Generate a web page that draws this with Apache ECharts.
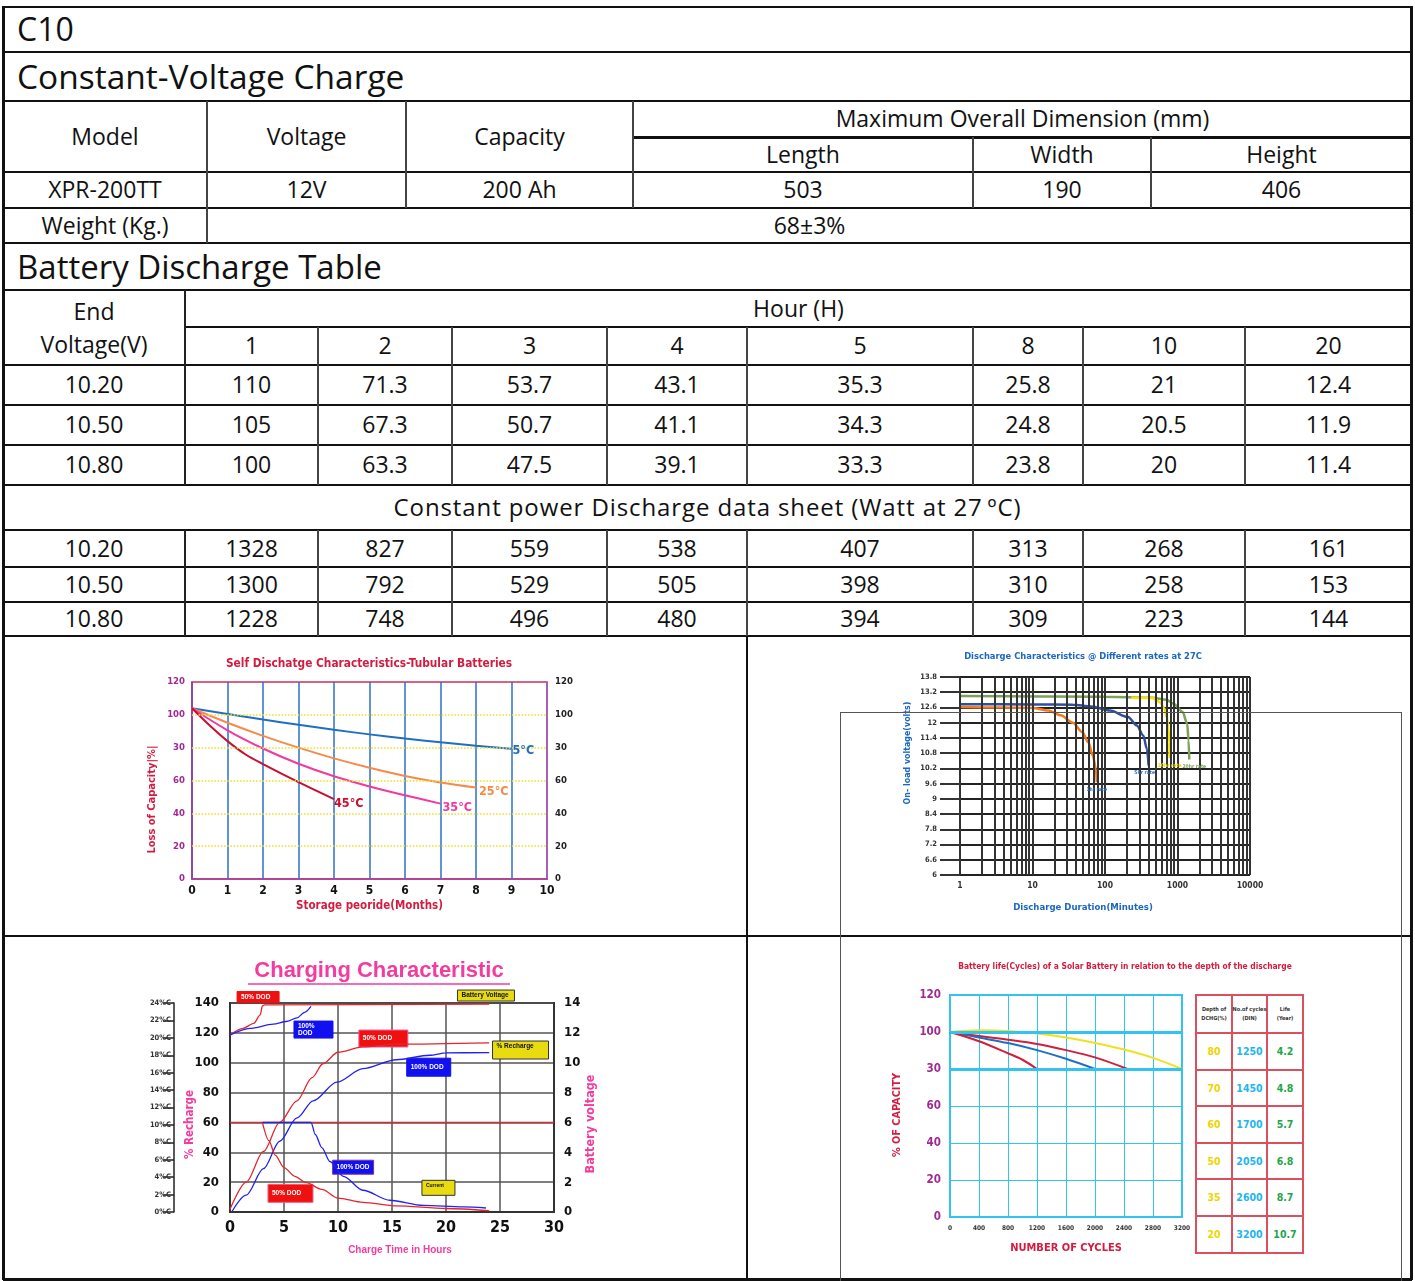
<!DOCTYPE html>
<html><head><meta charset="utf-8">
<script src="https://cdn.jsdelivr.net/npm/echarts@6/dist/echarts.min.js"></script>
<style>
body{margin:0;background:#fff;}
#sheet{position:relative;width:1415px;height:1281px;overflow:hidden;font-family:'Open Sans',sans-serif;color:#111;}
#chart{position:absolute;left:0;top:0;width:1415px;height:1281px;z-index:1;}
</style></head><body>
<div id="sheet"><div id="chart"></div></div>
<script>
// ================= DATA =================
const sheetTitle = 'C10';
const chargeTitle = 'Constant-Voltage Charge';
const specHeaders = ['Model', 'Voltage', 'Capacity'];
const dimHeader = 'Maximum Overall Dimension (mm)';
const dimHeaders = ['Length', 'Width', 'Height'];
const specValues = ['XPR-200TT', '12V', '200 Ah', '503', '190', '406'];
const weightLabel = 'Weight (Kg.)';
const weightValue = '68±3%';
const dischargeTitle = 'Battery Discharge Table';
const endVoltageHeader = 'End\nVoltage(V)';
const hourHeader = 'Hour (H)';
const hourLabels = ['1', '2', '3', '4', '5', '8', '10', '20'];
const endVoltages = ['10.20', '10.50', '10.80'];
const currentRows = [
  ['110', '71.3', '53.7', '43.1', '35.3', '25.8', '21', '12.4'],
  ['105', '67.3', '50.7', '41.1', '34.3', '24.8', '20.5', '11.9'],
  ['100', '63.3', '47.5', '39.1', '33.3', '23.8', '20', '11.4']
];
const powerHeader = 'Constant power Discharge data sheet (Watt at 27\u2009ºC)';
const powerRows = [
  ['1328', '827', '559', '538', '407', '313', '268', '161'],
  ['1300', '792', '529', '505', '398', '310', '258', '153'],
  ['1228', '748', '496', '480', '394', '309', '223', '144']
];

// Chart 1: self discharge (months, capacity units)
const selfTickLabels = ['0', '20', '40', '60', '30', '100', '120'];
const sd5C  = [[0,104],[1,100.5],[2,97.1],[3,93.9],[4,90.9],[5,88.1],[6,85.6],[7,83.3],[8,81.2],[9,79.4]];
const sd25C = [[0,104],[1,95.2],[2,87.2],[3,80],[4,73.5],[5,67.8],[6,62.8],[7,58.8],[8,55.7]];
const sd35C = [[0,104],[1,90.6],[2,79.5],[3,70.2],[4,62.6],[5,56.4],[6,51],[7,45.9]];
const sd45C = [[0,104],[0.5,93.5],[1,84],[1.5,76],[2,70],[3,59],[4,48.7]];
const sdNames = ['5°C', '25°C', '35°C', '45°C'];

// Chart 2: discharge at different rates (minutes, volts)
const logTickLabels = ['1', '10', '100', '1000', '10000'];
const voltTickLabels = ['6','6.6','7.2','7.8','8.4','9','9.6','10.2','10.8','11.4','12','12.6','13.2','13.8'];
const rate1h  = [[1,12.62],[3.7,12.6],[10,12.58],[16.6,12.48],[24.5,12.29],[36,12.0],[48.5,11.63],[59,11.23],[68,10.7],[75,10.18],[77,9.66]];
const rate5h  = [[1,12.73],[10,12.72],[36,12.71],[65,12.64],[117,12.48],[208,12.22],[275,11.89],[337,11.5],[378,10.97],[400,10.31]];
const rate20y = [[229,12.98],[450,12.97],[572,12.81],[660,12.55],[714,12.22],[750,11.76],[770,11.23],[778,10.6]];
const rate20g = [[1,13.05],[100,13.02],[450,12.98],[700,12.9],[883,12.75],[1178,12.42],[1361,11.96],[1420,11.3],[1455,10.55]];
const rateNames = ['1hr rate', '5hr rate', '20hr rate', '20hr rate'];

// Chart 3: charging characteristic (hours)
const currentTickLabels = ['0%C','2%C','4%C','6%C','8%C','10%C','12%C','14%C','16%C','18%C','20%C','22%C','24%C'];
const volt50 = [[0,11.85],[1.2,12.3],[2.2,12.64],[2.8,13.2],[3.0,13.8],[3.2,13.88],[24,13.92]];          // V
const volt100 = [[0,11.85],[1.85,12.3],[4,12.58],[5.2,12.76],[6.2,13.0],[6.9,13.37],[7.5,13.77]];      // V
const recharge50 = [[0,1.8],[1.5,20],[3.1,40.6],[4.6,60],[6.2,74.5],[7.6,90],[8.6,99.3],[10,107],[12.3,110.6],[15.4,112.4],[24,113.3]]; // %
const recharge100 = [[0.2,0.5],[1.5,11.3],[3.1,29],[4.6,47.4],[6.2,63],[7.7,74.5],[9.9,87],[12.3,96],[15.4,102],[18.5,105],[20,106.6],[24,106.8]]; // %
const currentFlat = [[0,10.3],[30,10.3]];  // %C
const current50 = [[3,10.3],[3.6,8.2],[4.2,6.5],[5,5.1],[6,4.1],[7,3.4],[8.5,2.6],[10,1.6],[12.3,1.1],[15.4,0.7],[20,0.4],[24,0.15]];
const current100 = [[3,10.3],[7.5,10.3],[7.9,8.9],[8.5,7.4],[9.25,5.8],[10.5,4.1],[12.3,2.5],[14.8,1.35],[17.9,0.77],[21.6,0.58],[23.7,0.46]];
const chargeBoxTexts = ['50% DOD','Battery Voltage','100%\nDOD','50% DOD','% Recharge','100% DOD','100% DOD','Current','50% DOD'];
const chargeBoxAnchors = [[2.6,144],[23.7,145],[7.73,122.2],[14.2,116.2],[26.9,108.5],[18.4,97],[11.4,30],[19.3,16.2],[5.6,12.5]];

// Chart 4: cycle life
const capTickLabels = ['0', '20', '40', '60', '30', '100', '120'];
const cyclesRedShort = [[0,100],[400,95],[800,88.5],[1000,85],[1200,80]];
const cyclesBlue = [[0,100],[400,97],[800,94],[1200,90.2],[1600,85.5],[2000,80]];
const cyclesRedLong = [[0,100],[400,97.8],[800,95.8],[1200,93.5],[1600,90.2],[2000,86.3],[2450,80]];
const cyclesYellow = [[0,100],[400,101],[800,100.6],[1200,99.2],[1600,97],[2000,94],[2400,90.5],[2800,86],[3200,80]];
const dodHeaders = ['Depth of\nDCHG(%)', 'No.of cycles\n(DIN)', 'Life\n(Year)'];
const dodDepth = ['80', '70', '60', '50', '35', '20'];
const dodCycles = ['1250', '1450', '1700', '2050', '2600', '3200'];
const dodLife = ['4.2', '4.8', '5.7', '6.8', '8.7', '10.7'];

// ================= HTML TABLES =================
const sheet = document.getElementById('sheet');
function box(x, y, w, h, css) {
  const d = document.createElement('div');
  d.style.cssText = 'position:absolute;left:' + x + 'px;top:' + y + 'px;width:' + w + 'px;height:' + h + 'px;' + (css || '');
  sheet.appendChild(d); return d;
}
function H(y, x1, x2, t, c) { t = t || 2.5; box(x1, y - t / 2, x2 - x1, t, 'background:' + (c || '#111')); }
function V(x, y1, y2, t, c) { t = t || 1.3; box(x - t / 2, y1, t, y2 - y1, 'background:' + (c || '#444')); }
function T(text, x1, y1, x2, y2, o) {
  o = o || {};
  const d = box(x1, y1, x2 - x1, y2 - y1,
    'display:flex;align-items:center;justify-content:' + (o.align || 'center') + ';font-size:' + (o.size || 23) +
    'px;line-height:' + (o.lh || 1.2) + ';white-space:pre;text-align:center;color:' + (o.color || '#111') + ';' + (o.css || ''));
  d.textContent = text; return d;
}
[7, 52, 101, 172, 208, 243, 290, 365, 405, 445, 485, 530, 567, 602, 636, 936].forEach(y => H(y, 3, 1412));
H(137.5, 633, 1412); H(327, 185, 1412); H(1279, 3, 1412, 3);
V(3.5, 6, 1280, 2.5, '#111'); V(1411.5, 6, 1280, 3, '#111');
V(207, 101, 243); V(406, 101, 208); V(633, 101, 208); V(973, 137, 208); V(1151, 137, 208);
const dCols = [3, 185, 318, 452, 607, 747, 973, 1083, 1245, 1412];
V(185, 290, 485, 1.6, '#222'); V(185, 530, 636, 1.6, '#222');
dCols.slice(2, 9).forEach(x => { V(x, 327, 485); V(x, 530, 636); });
V(747, 636, 1279, 2.5, '#111');

T(sheetTitle, 17, 7, 600, 52, { align: 'flex-start', size: 32 });
T(chargeTitle, 17, 52, 800, 101, { align: 'flex-start', size: 33.5 });
const tCols = [3, 207, 406, 633, 973, 1151, 1412];
specHeaders.forEach((s, i) => T(s, tCols[i], 101, tCols[i + 1], 172));
T(dimHeader, 633, 101, 1412, 137);
dimHeaders.forEach((s, i) => T(s, tCols[i + 3], 137, tCols[i + 4], 172));
specValues.forEach((s, i) => T(s, tCols[i], 172, tCols[i + 1], 208));
T(weightLabel, 3, 208, 207, 243);
T(weightValue, 207, 208, 1412, 243);
T(dischargeTitle, 17, 243, 800, 290, { align: 'flex-start', size: 33 });
T(endVoltageHeader, 3, 290, 185, 365, { lh: 1.4 });
T(hourHeader, 185, 290, 1412, 327);
hourLabels.forEach((s, i) => T(s, dCols[i + 1], 327, dCols[i + 2], 365));
const cRows = [365, 405, 445, 485];
currentRows.forEach((row, r) => {
  T(endVoltages[r], 3, cRows[r], 185, cRows[r + 1]);
  row.forEach((s, i) => T(s, dCols[i + 1], cRows[r], dCols[i + 2], cRows[r + 1]));
});
T(powerHeader, 3, 485, 1412, 530, { size: 24, css: 'letter-spacing:0.9px;' });
const pRows = [530, 567, 602, 636];
powerRows.forEach((row, r) => {
  T(endVoltages[r], 3, pRows[r], 185, pRows[r + 1]);
  row.forEach((s, i) => T(s, dCols[i + 1], pRows[r], dCols[i + 2], pRows[r + 1]));
});

const CF = "'DejaVu Sans Condensed','DejaVu Sans',sans-serif";
const AF = "'Liberation Sans',Arial,sans-serif";
const dodX = [1196, 1232, 1267, 1303];
const dodY = [995, 1033, 1070, 1106, 1143, 1179, 1216, 1253];
dodY.forEach(y => H(y, 1195, 1304, 1.6, '#d9505e'));
dodX.forEach(x => V(x, 994, 1254, 1.6, '#d9505e'));
dodHeaders.forEach((s, i) => T(s, dodX[i], dodY[0], dodX[i + 1], dodY[1], { size: 5.5, lh: 1.7, css: 'font-family:' + CF + ';font-weight:bold;color:#333;' }));
const dodColors = ['#f0d400', '#22b5f0', '#1fa54a'];
[dodDepth, dodCycles, dodLife].forEach((col, c) => col.forEach((s, r) =>
  T(s, dodX[c], dodY[r + 1], dodX[c + 1], dodY[r + 2], { size: 10.5, color: dodColors[c], css: 'font-family:' + CF + ';font-weight:bold;' })));

box(840, 712, 562, 570, 'border:1.3px solid #555;border-bottom:none;box-sizing:border-box;z-index:2;pointer-events:none;');

// ================= ECHARTS =================
const crimson = '#d31c3f';
const purple = '#a02a92';
const pink = '#f23c9e';
const chart = echarts.init(document.getElementById('chart'), null, { renderer: 'canvas' });

const logGridValues = [];
[1, 10, 100, 1000].forEach(d => { for (let k = 1; k <= 9; k++) logGridValues.push(k * d); });
logGridValues.push(10000);

function ln(data, x, y, color, width, extra) {
  return Object.assign({ type: 'line', xAxisIndex: x, yAxisIndex: y, data: data, showSymbol: false, symbol: 'none',
    smooth: 0.35, lineStyle: { color: color, width: width }, itemStyle: { color: color }, z: 3, silent: true }, extra || {});
}
const mono = { smooth: 0.3, smoothMonotone: 'x' };
function nameStyle(color, size, pad, family) {
  return { color: color, fontSize: size, fontWeight: 'bold', fontFamily: family || CF, padding: pad || 0 };
}
function lab(color, size, margin, extra) {
  return Object.assign({ color: color, fontSize: size, fontWeight: 'bold', fontFamily: CF, margin: margin }, extra || {});
}

const option = {
  animation: false,
  title: [
    { text: 'Self Dischatge Characteristics-Tubular Batteries', left: 369, top: 658, textAlign: 'center', padding: 0,
      textStyle: { color: crimson, fontSize: 11.8, fontWeight: 'bold', fontFamily: CF } },
    { text: 'Discharge Characteristics @ Different rates at 27C', left: 1083, top: 652, textAlign: 'center', padding: 0,
      textStyle: { color: '#1b67c2', fontSize: 9.3, fontWeight: 'bold', fontFamily: CF } },
    { text: 'Charging Characteristic', left: 379, top: 960, textAlign: 'center', padding: 0,
      textStyle: { color: pink, fontSize: 22, fontWeight: 'bold', fontFamily: AF } },
    { text: 'Battery life(Cycles) of a Solar Battery in relation to the depth of the discharge', left: 1125, top: 963, textAlign: 'center', padding: 0,
      textStyle: { color: crimson, fontSize: 8.4, fontWeight: 'bold', fontFamily: CF } }
  ],
  grid: [
    { left: 192, top: 682, width: 355, height: 197, show: true, borderColor: '#c8305a', borderWidth: 1.5, outerBoundsMode: 'none' },
    { left: 960, top: 677, width: 290, height: 198, outerBoundsMode: 'none' },
    { left: 230, top: 1003, width: 324, height: 209, show: true, borderColor: '#333', borderWidth: 2, outerBoundsMode: 'none' },
    { left: 950, top: 995, width: 232, height: 222, show: true, borderColor: '#33c3f0', borderWidth: 2, outerBoundsMode: 'none' }
  ],
  xAxis: [
    { gridIndex: 0, type: 'value', min: 0, max: 10, interval: 1,
      axisLine: { show: true, lineStyle: { color: '#a63d9e', width: 1.5 } }, axisTick: { show: false },
      axisLabel: lab('#111', 12, 6),
      splitLine: { show: true, lineStyle: { color: '#2a72c8', width: 1.5 } },
      name: 'Storage peoride(Months)', nameLocation: 'middle', nameGap: 21, nameMoveOverlap: false, nameTextStyle: nameStyle(crimson, 11.5) },
    { gridIndex: 1, type: 'log', logBase: 10, min: 1, max: 10000,
      axisLine: { show: false }, axisTick: { show: false },
      axisLabel: lab('#333', 8.5, 6, { formatter: v => logTickLabels[Math.round(Math.log10(v))] }), splitLine: { show: false },
      name: 'Discharge Duration(Minutes)', nameLocation: 'middle', nameGap: 28, nameMoveOverlap: false, nameTextStyle: nameStyle('#1b67c2', 9.5, [0, 44, 0, 0]) },
    { gridIndex: 2, type: 'value', min: 0, max: 30, interval: 5,
      axisLine: { show: true, lineStyle: { color: '#333', width: 2 } }, axisTick: { show: false },
      axisLabel: lab('#111', 16, 8), splitLine: { show: true, lineStyle: { color: '#555', width: 1.5 } },
      name: 'Charge Time in Hours', nameLocation: 'middle', nameGap: 33, nameMoveOverlap: false, nameTextStyle: nameStyle(pink, 10, [0, 0, 0, 16], AF) },
    { gridIndex: 3, type: 'value', min: 0, max: 3200, interval: 400,
      axisLine: { show: true, lineStyle: { color: '#33c3f0', width: 2 } }, axisTick: { show: false },
      axisLabel: lab('#333', 6.5, 8, { formatter: v => String(v) }), splitLine: { show: true, lineStyle: { color: '#33c3f0', width: 1 } },
      name: 'NUMBER OF CYCLES', nameLocation: 'middle', nameGap: 26, nameMoveOverlap: false, nameTextStyle: nameStyle(crimson, 11) }
  ],
  yAxis: [
    { gridIndex: 0, type: 'value', min: 0, max: 120, interval: 20, position: 'left',
      axisLine: { show: true, lineStyle: { color: '#a63d9e', width: 1.5 } }, axisTick: { show: false },
      axisLabel: lab(purple, 9.5, 7, { formatter: v => selfTickLabels[Math.round(v / 20)] }), splitLine: { show: false },
      name: 'Loss of Capacity|%|', nameLocation: 'middle', nameGap: 34, nameMoveOverlap: false, nameTextStyle: nameStyle(crimson, 11, [0, 38, 0, 0]) },
    { gridIndex: 0, type: 'value', min: 0, max: 120, interval: 20, position: 'right',
      axisLine: { show: true, lineStyle: { color: '#c25bb5', width: 1.5 } }, axisTick: { show: false },
      axisLabel: lab('#222', 9.5, 8, { formatter: v => selfTickLabels[Math.round(v / 20)] }), splitLine: { show: false } },
    { gridIndex: 1, type: 'value', min: 6, max: 13.8, interval: 0.6,
      axisLine: { show: false }, axisTick: { show: true, length: 20, lineStyle: { color: '#333', width: 2 } },
      axisLabel: lab('#333', 7.5, 23, { formatter: v => voltTickLabels[Math.round((v - 6) / 0.6)] }),
      splitLine: { show: true, lineStyle: { color: '#222', width: 2 } },
      name: 'On- load voltage(volts)', nameLocation: 'middle', nameGap: 48, nameMoveOverlap: false, nameTextStyle: nameStyle('#1b67c2', 8.8, [0, 0, 0, 46]) },
    { gridIndex: 2, type: 'value', min: 0, max: 140, interval: 20, position: 'left',
      axisLine: { show: true, lineStyle: { color: '#333', width: 2 } }, axisTick: { show: false },
      axisLabel: lab('#111', 13, 11), splitLine: { show: true, lineStyle: { color: '#555', width: 1.5 } },
      name: '% Recharge', nameLocation: 'middle', nameGap: 34, nameMoveOverlap: false, nameTextStyle: nameStyle(pink, 11.5, [0, 34, 0, 0]) },
    { gridIndex: 2, type: 'value', min: 0, max: 14, interval: 2, position: 'right',
      axisLine: { show: true, lineStyle: { color: '#333', width: 2 } }, axisTick: { show: false },
      axisLabel: lab('#111', 13, 10), splitLine: { show: false },
      name: 'Battery voltage', nameLocation: 'middle', nameGap: 30, nameMoveOverlap: false, nameTextStyle: nameStyle(pink, 12.5, [0, 33, 0, 0]) },
    { gridIndex: 2, type: 'value', min: 0, max: 24, interval: 2, position: 'left', offset: 56,
      axisLine: { show: true, lineStyle: { color: '#222', width: 1.5 } },
      axisTick: { show: true, length: 11, lineStyle: { color: '#222', width: 1.5 } },
      axisLabel: lab('#333', 7.5, 3, { formatter: v => currentTickLabels[Math.round(v / 2)] }), splitLine: { show: false } },
    { gridIndex: 3, type: 'value', min: 0, max: 120, interval: 20,
      axisLine: { show: true, lineStyle: { color: '#33c3f0', width: 2 } }, axisTick: { show: false },
      axisLabel: lab(purple, 11.5, 9, { formatter: v => capTickLabels[Math.round(v / 20)] }),
      splitLine: { show: true, lineStyle: { color: '#33c3f0', width: 1 } },
      name: '% OF CAPACITY', nameLocation: 'middle', nameGap: 47, nameMoveOverlap: false, nameTextStyle: nameStyle(crimson, 10.8, [0, 18, 0, 0]) }
  ],
  series: [
    { type: 'line', xAxisIndex: 0, yAxisIndex: 0, data: [], z: 1, silent: true,
      markLine: { silent: true, symbol: 'none', label: { show: false }, animation: false,
        lineStyle: { type: 'dotted', color: '#efe12c', width: 1.6 },
        data: [20, 40, 60, 80, 100].map(v => ({ yAxis: v })) } },
    ln(sd5C, 0, 0, '#1f6fc1', 2),
    ln(sd25C, 0, 0, '#f58a4a', 2),
    ln(sd35C, 0, 0, '#f03aa0', 2),
    ln(sd45C, 0, 0, '#c8102e', 2),
    { type: 'line', xAxisIndex: 1, yAxisIndex: 2, data: [], z: 1, silent: true,
      markLine: { silent: true, symbol: 'none', label: { show: false }, animation: false,
        lineStyle: { type: 'solid', color: '#333', width: 2 },
        data: logGridValues.map(v => ({ xAxis: v })) } },
    ln(rate20g, 1, 2, '#7fa05a', 2.5, mono),
    ln(rate20y, 1, 2, '#f5e400', 2.5, mono),
    ln(rate5h, 1, 2, '#2e4f9e', 2.5, mono),
    ln(rate1h, 1, 2, '#f27a1e', 2.5, mono),
    ln(currentFlat, 2, 5, '#e3262e', 1.3, { smooth: false }),
    ln(volt50, 2, 4, '#e3262e', 1.3, mono),
    ln(volt100, 2, 4, '#2222ee', 1.3, mono),
    ln(recharge50, 2, 3, '#e3262e', 1.3, mono),
    ln(recharge100, 2, 3, '#2222ee', 1.3, mono),
    ln(current50, 2, 5, '#e3262e', 1.3, mono),
    ln(current100, 2, 5, '#2222ee', 1.3, mono),
    { type: 'line', xAxisIndex: 3, yAxisIndex: 6, data: [], z: 1, silent: true,
      markLine: { silent: true, symbol: 'none', label: { show: false }, animation: false,
        lineStyle: { type: 'solid', color: '#33c3f0', width: 3 },
        data: [100, 80].map(v => ({ yAxis: v })) } },
    ln(cyclesYellow, 3, 6, '#f0e020', 2),
    ln(cyclesRedLong, 3, 6, '#d0203a', 2),
    ln(cyclesBlue, 3, 6, '#2070c0', 2),
    ln(cyclesRedShort, 3, 6, '#d0203a', 2)
  ]
};
chart.setOption(option);

// ---- annotations positioned through the axes ----
const els = [];
function px(finder, pt) { return chart.convertToPixel(finder, pt); }
const f1 = { xAxisIndex: 0, yAxisIndex: 0 };
[[sd5C, '#1f6fc1', 1, 2], [sd25C, '#f58a4a', 3, 4], [sd35C, '#f03aa0', 2, 4], [sd45C, '#c8102e', 0, 5]].forEach((s, i) => {
  const p = px(f1, s[0][s[0].length - 1]);
  els.push({ type: 'text', x: p[0] + s[2], y: p[1] + s[3], z: 20,
    style: { text: sdNames[i], fill: s[1], fontSize: 12.5, fontWeight: 'bold', fontFamily: CF, align: 'left', verticalAlign: 'middle' } });
});
const f2 = { xAxisIndex: 1, yAxisIndex: 2 };
[[rate1h, '#2d6fc4', 0, 8], [rate5h, '#2d6fc4', -4, 7], [rate20y, '#e8d800', 0, 7], [rate20g, '#7fa05a', 5, 7]].forEach((s, i) => {
  const p = px(f2, s[0][s[0].length - 1]);
  els.push({ type: 'text', x: p[0] + s[2], y: p[1] + s[3], z: 20,
    style: { text: rateNames[i], fill: s[1], fontSize: 5, fontWeight: 'bold', fontFamily: CF, align: 'center', verticalAlign: 'middle' } });
});
const f3 = { xAxisIndex: 2, yAxisIndex: 3 };
const boxStyles = [
  { w: 42, h: 11, fill: '#f01010', stroke: '#f01010', color: '#fff' },
  { w: 57, h: 11, fill: '#e8dc10', stroke: '#333', color: '#111' },
  { w: 39, h: 17, fill: '#1010f0', stroke: '#1010f0', color: '#fff' },
  { w: 49, h: 17, fill: '#f01010', stroke: '#f060a0', color: '#fff' },
  { w: 56, h: 18, fill: '#e8dc10', stroke: '#333', color: '#111', top: true },
  { w: 44, h: 18, fill: '#1010f0', stroke: '#1010f0', color: '#fff' },
  { w: 41, h: 14, fill: '#1010f0', stroke: '#8030a0', color: '#fff' },
  { w: 33, h: 15, fill: '#e8dc10', stroke: '#333', color: '#111', top: true, small: true },
  { w: 45, h: 18, fill: '#f01010', stroke: '#f06080', color: '#fff' }
];
chargeBoxAnchors.forEach((a, i) => {
  const p = px(f3, a), b = boxStyles[i];
  els.push({ type: 'group', x: p[0] - b.w / 2, y: p[1] - b.h / 2, z: 20, children: [
    { type: 'rect', shape: { x: 0, y: 0, width: b.w, height: b.h }, style: { fill: b.fill, stroke: b.stroke, lineWidth: 1 } },
    { type: 'text', x: 4, y: b.top ? 2 : b.h / 2, style: { text: chargeBoxTexts[i], fill: b.color,
      fontSize: b.small ? 5 : 6.5, fontWeight: 'bold', fontFamily: AF, lineHeight: 7,
      align: 'left', verticalAlign: b.top ? 'top' : 'middle' } }
  ] });
});
els.push({ type: 'line', z: 20, shape: { x1: 248, y1: 984, x2: 510, y2: 984 }, style: { stroke: pink, lineWidth: 1.5 } });
chart.setOption({ graphic: { elements: els } });
</script>
</body></html>
